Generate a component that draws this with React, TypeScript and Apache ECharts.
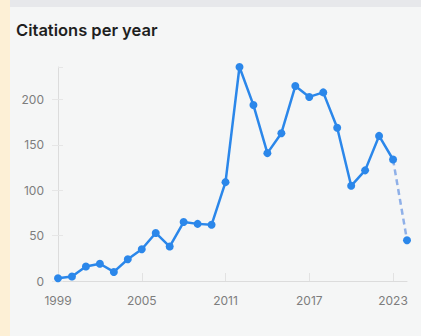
import React, { useEffect, useRef } from "react";
import * as echarts from "echarts";

const years: string[] = [
  "1999", "2000", "2001", "2002", "2003", "2004", "2005", "2006", "2007",
  "2008", "2009", "2010", "2011", "2012", "2013", "2014", "2015", "2016",
  "2017", "2018", "2019", "2020", "2021", "2022", "2023", "2024",
];
const citations: number[] = [
  3, 5, 16, 19, 10, 24, 35, 53, 38, 65, 63, 62, 109, 236, 194, 141, 163, 215,
  203, 208, 169, 105, 122, 160, 134, 45,
];
const titleText = "Citations per year";

const FONT = "Inter, 'Liberation Sans', Arial, sans-serif";

export default function App() {
  const ref = useRef<HTMLDivElement>(null);

  useEffect(() => {
    if (!ref.current) return;
    const chart = echarts.init(ref.current, undefined, { renderer: "svg" });
    const n = citations.length;
    const solid = citations.map((v, i) => (i < n - 1 ? v : null));
    const dashed = citations.map((v, i) =>
      i === n - 2 ? { value: v, symbol: "none" } : i === n - 1 ? v : null
    );
    chart.setOption({
      animation: false,
      backgroundColor: "transparent",
      textStyle: { fontFamily: FONT },
      title: {
        text: titleText,
        left: 2,
        top: 8,
        textStyle: {
          fontFamily: FONT,
          fontSize: 16.5,
          fontWeight: 600,
          color: "#1f1f1f",
        },
      },
      grid: { left: 49, right: 14, top: 59, bottom: 55, containLabel: false },
      xAxis: {
        type: "category",
        data: years,
        boundaryGap: false,
        axisLine: { show: true, lineStyle: { color: "#dcdcdc", width: 1 } },
        axisTick: {
          show: true,
          inside: true,
          length: 8,
          interval: 5,
          lineStyle: { color: "#e2e2e2" },
        },
        axisLabel: {
          interval: 5,
          margin: 13,
          color: "#7d7d7d",
          fontSize: 12,
          fontFamily: FONT,
        },
        splitLine: { show: false },
      },
      yAxis: [
        {
          type: "value",
          min: 0,
          max: "dataMax",
          interval: 50,
          axisLine: { show: true, lineStyle: { color: "#dcdcdc", width: 1 } },
          axisTick: {
            show: true,
            length: 6,
            lineStyle: { color: "#e6e6e6" },
          },
          axisLabel: {
            margin: 14,
            color: "#7d7d7d",
            fontSize: 12,
            fontFamily: FONT,
            showMaxLabel: false,
          },
          splitLine: { show: false },
        },
        {
          type: "value",
          min: 0,
          max: "dataMax",
          interval: 50,
          position: "left",
          axisLine: { show: false },
          axisTick: {
            show: true,
            inside: true,
            length: 5,
            lineStyle: { color: "#e6e6e6" },
          },
          axisLabel: { show: false },
          splitLine: { show: false },
        },
      ],
      series: [
        {
          type: "line",
          data: dashed,
          yAxisIndex: 0,
          symbol: "circle",
          symbolSize: 8,
          showAllSymbol: true,
          itemStyle: { color: "#2b87ea" },
          lineStyle: { color: "#8fb0e8", width: 2.5, type: [6, 4] },
          connectNulls: false,
          z: 2,
        },
        {
          type: "line",
          data: solid,
          yAxisIndex: 0,
          symbol: "circle",
          symbolSize: 8,
          showAllSymbol: true,
          itemStyle: { color: "#2b87ea" },
          lineStyle: { color: "#2b87ea", width: 2.5 },
          connectNulls: false,
          z: 3,
        },
        {
          type: "line",
          data: citations,
          yAxisIndex: 1,
          symbol: "none",
          lineStyle: { opacity: 0 },
          silent: true,
          z: 0,
        },
      ],
    });
    return () => chart.dispose();
  }, []);

  return (
    <div
      style={{
        position: "fixed",
        left: 0,
        top: 0,
        width: 421,
        height: 336,
        background: "#f5f6f6",
        overflow: "hidden",
      }}
    >
      <div
        style={{
          position: "absolute",
          left: 0,
          top: 0,
          width: 421,
          height: 7,
          background: "#e7e8eb",
        }}
      />
      <div
        style={{
          position: "absolute",
          left: 0,
          top: 0,
          width: 10,
          height: 336,
          background: "#fdf0d6",
        }}
      />
      <div
        ref={ref}
        style={{ position: "absolute", left: 9, top: 8, width: 412, height: 328 }}
      />
    </div>
  );
}
